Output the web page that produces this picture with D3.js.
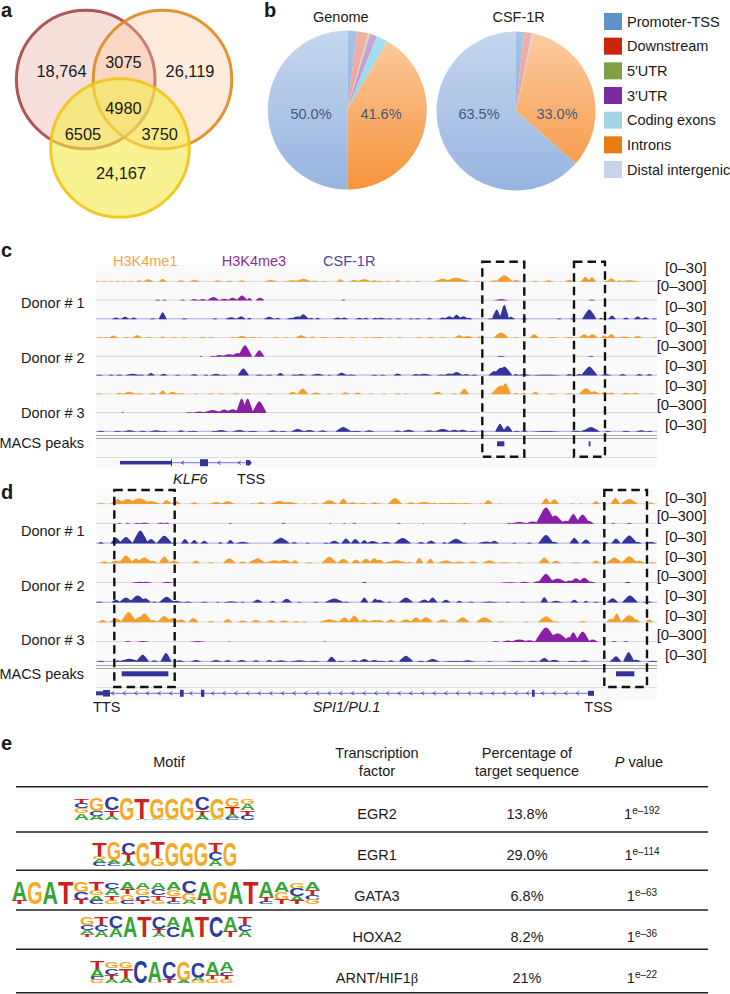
<!DOCTYPE html>
<html><head><meta charset="utf-8">
<script src="https://cdn.jsdelivr.net/npm/d3@7"></script>
<style>
html,body{margin:0;padding:0;background:#fff}
svg{display:block;font-family:"Liberation Sans",Arial,sans-serif;fill:#1a1a1a}
</style></head><body>
<svg id="c" width="730" height="994"></svg>
<script>
// ---------- panel a: Venn region counts
const vennLabels=["18,764","3075","26,119","4980","6505","3750","24,167"];
// ---------- panel b: peak annotation
const annoCategories=["Promoter-TSS","Downstream","5′UTR","3′UTR","Coding exons","Introns","Distal intergenic"];
const genomeShare=[2.0,2.2,0.4,1.5,2.3,41.6,50.0];
const csfShare=[1.6,1.6,0.1,0.1,0.1,33.0,63.5];
const pieTitles=["Genome","CSF-1R"];
const pieLabelsGenome=["50.0%","41.6%"];
const pieLabelsCsf=["63.5%","33.0%"];
// ---------- panels c/d: signal peaks as [position, half width, height]; position domain 0..1683, height domain 0..56
const c_me1_1=[[5,6,1],[25,6,1],[45,6,1],[65,6,1],[85,6,1],[105,6,1],[130,8,3],[157,14,6],[200,10,8],[255,10,3],[295,14,4],[365,10,3],[400,8,2],[438,10,3],[525,18,4],[590,25,3],[622,20,8],[655,10,2],[685,10,1],[733,10,6],[775,14,4],[805,20,6],[835,10,3],[850,8,2],[875,8,1],[905,8,3],[935,8,1],[965,8,1],[1040,22,8],[1080,30,11],[1108,12,4],[1145,8,2],[1195,12,3],[1225,22,18],[1260,12,4],[1318,8,2],[1358,14,3],[1420,12,5],[1468,12,14],[1488,10,12],[1530,6,2],[1546,12,9],[1570,8,3],[1600,28,3]];
const c_me3_1=[[185,7,2],[205,6,2],[260,6,2],[295,12,3],[320,12,3],[352,16,9],[385,15,4],[410,14,7],[438,14,14],[460,8,6],[492,11,8],[742,5,2],[1215,18,3],[1487,8,2]];
const c_csf_1=[[60,10,4],[87,12,6],[113,9,4],[170,7,2],[200,10,20],[265,7,2],[357,6,2],[405,14,5],[435,12,8],[460,6,3],[520,14,6],[545,8,3],[585,12,3],[605,20,7],[622,14,14],[645,8,3],[665,8,3],[725,12,4],[745,10,4],[790,10,3],[810,8,3],[838,8,3],[855,14,3],[880,8,2],[908,8,2],[945,6,2],[965,8,2],[1000,8,3],[1040,10,4],[1060,14,8],[1082,12,12],[1102,14,8],[1120,8,3],[1185,8,2],[1202,12,28],[1225,12,42],[1245,10,6],[1285,8,3],[1390,6,2],[1430,6,2],[1480,18,28],[1515,6,3],[1548,10,10],[1590,8,4],[1625,10,7],[1648,10,5],[1675,6,2]];
const c_me1_2=[[10,8,1],[30,6,1],[52,12,6],[90,8,2],[124,12,8],[160,10,2],[200,8,3],[235,8,1],[265,8,2],[320,8,2],[345,8,1],[410,7,2],[438,14,5],[470,10,2],[495,6,1],[540,8,1],[570,8,1],[615,16,7],[650,8,3],[685,12,2],[730,14,1],[770,8,2],[810,8,1],[835,8,1],[850,10,2],[880,6,1],[910,6,2],[970,10,1],[1005,10,2],[1040,8,1],[1090,15,7],[1115,15,5],[1150,8,3],[1215,20,15],[1260,8,2],[1315,12,10],[1370,14,2],[1420,14,2],[1465,14,10],[1490,14,10],[1525,10,6],[1546,12,10],[1585,18,3],[1625,12,5],[1675,6,1]];
const c_me3_2=[[315,3,2],[350,8,2],[370,15,4],[400,25,6],[425,18,10],[447,18,33],[490,13,18],[1215,10,2],[1485,7,2]];
const c_csf_2=[[10,10,1],[45,6,2],[70,8,2],[110,20,4],[135,8,2],[165,10,6],[203,10,4],[245,8,1],[295,10,3],[330,6,2],[360,15,4],[385,8,1],[442,14,20],[490,10,2],[520,8,2],[553,10,6],[595,8,2],[615,14,3],[665,18,4],[700,6,1],[737,14,7],[765,14,2],[835,10,1],[860,8,1],[905,10,5],[960,12,3],[985,20,4],[1035,10,2],[1060,14,5],[1082,16,9],[1110,12,3],[1135,8,2],[1195,15,12],[1215,22,22],[1225,20,26],[1260,8,3],[1285,18,3],[1350,40,1],[1420,10,3],[1450,10,3],[1480,20,26],[1530,14,3],[1580,10,3],[1630,10,3],[1660,8,3]];
const c_me1_3=[[10,10,1],[70,10,3],[100,18,6],[130,10,2],[170,10,3],[200,10,11],[230,14,6],[255,10,2],[300,6,1],[345,8,2],[375,8,2],[420,8,2],[455,8,2],[520,8,1],[590,12,6],[620,14,16],[660,14,4],[700,8,1],[748,10,5],[785,10,4],[825,6,1],[865,5,1],[905,8,2],[930,6,1],[1025,14,6],[1075,8,2],[1105,12,15],[1205,12,20],[1215,25,25],[1228,14,32],[1260,8,3],[1283,8,3],[1318,10,6],[1365,14,1],[1420,12,2],[1470,18,17],[1495,15,8],[1525,10,6],[1545,10,4],[1590,14,3],[1617,12,3],[1665,6,1]];
const c_me3_3=[[80,3,2],[280,10,1],[310,20,3],[350,25,8],[385,18,9],[410,20,10],[437,14,42],[455,14,42],[490,18,34]];
const c_csf_3=[[15,10,2],[65,10,2],[100,18,3],[140,10,2],[180,20,3],[205,8,2],[255,10,3],[290,15,2],[355,8,1],[375,18,4],[430,18,4],[470,14,2],[530,14,3],[560,10,2],[605,18,7],[640,16,4],[680,12,3],[742,20,13],[780,15,2],[820,14,3],[905,10,3],[938,16,5],[1000,14,3],[1040,22,7],[1075,14,5],[1100,14,5],[1130,12,2],[1212,12,23],[1235,12,17],[1262,8,2],[1285,8,4],[1350,40,1],[1440,14,2],[1465,10,4],[1485,22,13],[1535,8,2],[1590,10,2],[1635,14,3],[1660,8,2]];
const d_me1_1=[[15,14,1],[65,18,13],[95,25,14],[130,30,16],[165,25,8],[212,12,11],[240,12,8],[295,12,4],[360,18,5],[395,18,7],[470,10,1],[495,12,5],[550,25,8],[580,25,5],[625,4,1],[655,10,2],[700,20,10],[742,12,15],[770,15,4],[800,12,3],[835,12,4],[850,8,1],[897,18,17],[945,15,4],[985,25,5],[1015,8,3],[1040,14,3],[1070,25,3],[1110,20,2],[1155,6,1],[1177,12,10],[1215,4,1],[1350,12,16],[1375,12,14],[1430,6,1],[1455,6,1],[1500,10,7],[1558,12,17],[1600,22,14],[1665,8,4]];
const d_me3_1=[[70,6,2],[95,6,2],[125,12,2],[145,14,3],[195,10,3],[212,8,3],[403,5,2],[562,6,2],[703,4,1],[745,4,1],[775,6,2],[908,6,2],[983,3,1],[1105,3,2],[1240,8,2],[1270,25,4],[1310,20,6],[1350,25,48],[1378,22,24],[1410,22,8],[1432,16,28],[1460,18,27],[1478,14,8],[1552,6,2],[1600,8,2]];
const d_csf_1=[[15,8,3],[60,14,16],[90,18,18],[133,20,38],[165,14,12],[205,20,22],[235,8,2],[267,10,12],[295,10,9],[325,10,7],[373,6,3],[403,10,9],[440,18,4],[555,22,16],[595,8,3],[635,6,2],[690,8,2],[715,14,7],[750,12,14],[778,12,12],[805,10,9],[830,18,6],[870,14,4],[920,22,15],[975,10,3],[1005,12,8],[1045,6,3],[1080,22,13],[1105,10,2],[1170,20,5],[1195,12,7],[1255,6,2],[1300,8,2],[1350,20,24],[1375,10,4],[1435,12,16],[1470,12,11],[1528,8,3],[1560,12,14],[1600,20,23],[1625,10,4],[1665,14,4]];
const d_me1_2=[[25,14,4],[60,18,6],[90,18,22],[120,14,13],[145,22,16],[170,14,6],[205,14,19],[235,14,7],[300,10,7],[345,8,2],[400,16,14],[440,10,4],[470,10,8],[485,20,14],[535,25,8],[565,20,9],[597,10,8],[640,10,1],[700,20,18],[742,16,12],[780,12,10],[810,14,12],[835,14,14],[850,14,10],[900,30,8],[940,8,3],[970,10,15],[1003,10,12],[1050,22,7],[1090,18,4],[1130,12,5],[1180,18,8],[1225,18,2],[1270,10,1],[1345,14,16],[1380,14,6],[1440,15,1],[1500,10,7],[1555,20,16],[1600,20,20],[1630,16,6],[1670,10,2]];
const d_me3_2=[[130,20,2],[150,15,2],[215,15,2],[805,6,2],[1240,25,1],[1285,14,2],[1325,14,4],[1350,20,26],[1385,25,12],[1420,14,6],[1440,16,13],[1465,16,14],[1485,12,3],[1595,8,2]];
const d_csf_2=[[10,10,2],[60,12,7],[90,18,14],[125,22,20],[148,15,12],[175,8,2],[212,20,16],[240,20,4],[275,14,2],[325,14,1],[365,6,1],[405,18,3],[440,8,1],[485,14,8],[530,10,4],[572,14,10],[610,8,1],[660,10,1],[715,24,11],[750,10,2],[805,10,14],[838,10,10],[850,14,7],[880,8,1],[930,18,14],[985,16,8],[1010,12,14],[1050,12,7],[1090,10,4],[1125,12,1],[1180,25,2],[1235,8,1],[1280,10,1],[1345,10,15],[1380,18,4],[1435,10,7],[1470,8,4],[1500,10,1],[1550,15,12],[1602,20,20],[1655,12,3]];
const d_me1_3=[[20,12,6],[60,18,10],[98,20,30],[130,18,15],[145,20,25],[170,14,6],[205,18,18],[230,18,12],[255,14,8],[292,14,12],[345,8,3],[395,12,9],[440,14,4],[480,14,6],[525,14,5],[565,14,4],[600,12,3],[625,8,2],[700,25,8],[745,16,13],[775,14,19],[805,14,8],[835,16,6],[850,14,6],[885,14,7],[930,18,7],[960,14,14],[990,18,14],[1040,16,8],[1100,18,14],[1165,22,14],[1215,14,1],[1290,10,1],[1350,22,16],[1380,10,2],[1460,10,3],[1545,12,10],[1562,12,25],[1600,22,20],[1620,12,7],[1660,10,7]];
const d_me3_3=[[95,10,2],[140,18,2],[305,22,2],[400,3,1],[686,3,1],[1200,10,1],[1235,15,3],[1270,25,6],[1300,18,4],[1350,28,42],[1385,30,25],[1420,18,14],[1432,14,28],[1460,18,30],[1490,14,6],[1555,8,1],[1590,8,1]];
const d_csf_3=[[15,10,2],[65,8,3],[100,28,8],[140,16,20],[175,10,3],[210,14,25],[250,14,3],[300,14,4],[360,14,4],[395,10,4],[437,14,4],[480,10,3],[520,10,4],[555,18,3],[610,25,3],[655,14,2],[707,12,14],[735,10,2],[775,12,4],[805,14,7],[835,14,4],[855,14,2],[885,10,3],[930,18,17],[975,10,2],[1010,18,7],[1075,30,1],[1115,20,3],[1180,8,1],[1260,25,1],[1310,12,2],[1345,14,10],[1375,14,5],[1430,14,2],[1465,14,3],[1550,8,6],[1560,14,15],[1598,14,28],[1620,14,5],[1670,14,2]];
const histoneMarks=["H3K4me1","H3K4me3","CSF-1R"];
const donors=["Donor # 1","Donor # 2","Donor # 3"];
const rangeLabels=["[0–30]","[0–300]","[0–30]","[0–30]","[0–300]","[0–30]","[0–30]","[0–300]","[0–30]"];
// ---------- panel e
const motifHeaders=["Motif","Percentage of target sequence","P value"];
const factors=["EGR2","EGR1","GATA3","HOXA2","ARNT/HIF1"];
const percents=["13.8%","29.0%","6.8%","8.2%","21%"];
const pExponents=["e–192","e–114","e–63","e–36","e–22"];
// each motif position: letters top to bottom as letter + relative height
const motifEGR2=[["T",.25,"C",.2,"G",.25,"A",.3],["G",.6,"C",.2,"A",.2],["C",.55,"T",.3,"A",.15],["G",1],["T",.95,"A",.05],["G",.95,"A",.05],["G",.95,"A",.05],["G",1],["C",.55,"T",.25,"A",.2],["G",.95,"A",.05],["G",.4,"T",.35,"A",.15,"C",.1],["G",.25,"A",.3,"T",.25,"C",.2]];
const motifEGR1=[["T",.6,"G",.1,"A",.15,"C",.15],["G",.75,"A",.12,"C",.13],["C",.5,"T",.3,"A",.2],["G",1],["T",.7,"G",.3],["G",1],["G",1],["G",1],["T",.4,"C",.35,"A",.25],["G",1]];
const motifGATA3=[["A",.85,"T",.15],["G",1],["A",1],["T",1],["G",.45,"C",.35,"T",.2],["T",.4,"G",.2,"A",.25,"C",.15],["C",.3,"A",.3,"T",.25,"G",.15],["A",.35,"T",.2,"G",.3,"C",.15],["A",.3,"G",.3,"C",.25,"T",.15],["A",.3,"C",.3,"T",.25,"G",.15],["A",.35,"G",.3,"T",.25,"C",.1],["C",.5,"G",.35,"A",.15],["A",.8,"T",.2],["G",1],["A",1],["T",1],["A",.7,"T",.2,"C",.1],["A",.45,"G",.35,"T",.2],["G",.3,"C",.35,"A",.2,"T",.15],["A",.35,"T",.25,"C",.2,"G",.2]];
const motifHOXA2=[["G",.4,"C",.25,"A",.2,"T",.15],["T",.4,"C",.3,"A",.3],["C",.55,"A",.45],["A",1],["T",1],["C",.6,"T",.2,"A",.2],["A",.5,"C",.5],["A",1],["T",1],["C",1],["A",.7,"T",.3],["T",.4,"C",.3,"A",.3]];
const motifARNT=[["T",.35,"A",.35,"C",.15,"G",.15],["G",.3,"C",.3,"T",.25,"A",.15],["G",.3,"T",.45,"A",.25],["C",1],["A",.95,"G",.05],["C",.8,"T",.2],["G",.9,"A",.1],["C",.75,"A",.15,"G",.1],["A",.6,"T",.2,"G",.2],["A",.45,"C",.2,"T",.15,"G",.2]];

const svg=d3.select("#c");
function txt(x,y,s,o={}){
  const t=svg.append("text").attr("x",x).attr("y",y).attr("dy",".36em").attr("font-size",o.size||14.5)
   .attr("text-anchor",o.anchor||"start").attr("fill",o.fill||"#1a1a1a").text(s);
  if(o.bold)t.attr("font-weight","bold"); if(o.italic)t.attr("font-style","italic");
  return t;
}
[["a",1,10],["b",264,10],["c",1,250],["d",1,492],["e",1,743]].forEach(d=>txt(d[1],d[2],d[0],{size:20,bold:true}));

// ---- Venn
const vennCircles=[{cx:85.7,cy:79.5,fill:"#e8a89e",fo:.36,stroke:"#a8484a"},{cx:162.5,cy:79.5,fill:"#fbc79a",fo:.36,stroke:"#e08a22"},{cx:120,cy:148,fill:"#f6ea4e",fo:.62,stroke:"#f0c418"}];
svg.selectAll(".v").data(vennCircles).join("circle").attr("cx",d=>d.cx).attr("cy",d=>d.cy).attr("r",69.3)
 .attr("fill",d=>d.fill).attr("fill-opacity",d=>d.fo).attr("stroke",d=>d.stroke).attr("stroke-width",3).attr("stroke-opacity",.92);
[[61.5,70.7],[123.4,62.3],[190,70.7],[123.4,108.3],[82.9,134.3],[159.7,134.3],[121,173.3]].forEach((p,i)=>
  txt(p[0],p[1],vennLabels[i],{size:16.4,anchor:"middle"}));

// ---- Pies
const defs=svg.append("defs");
const sliceTop=["#a9c3e6","#f3b0aa","#d6e0a8","#c8a8de","#a8e0ee","#fccca4","#c5d7ef"];
const sliceBot=["#7ea4d8","#ea8c84","#b8cc78","#a47cc8","#7ccbe0","#f6943a","#97b4e0"];
function pie(vals,cx,cy,id,title,titleX){
  const r=79.5;
  const arcs=d3.pie().sort(null).value(d=>d)(vals);
  const arc=d3.arc().innerRadius(0).outerRadius(r);
  const g=svg.append("g").attr("transform",`translate(${cx},${cy})`);
  sliceTop.forEach((c,i)=>{
    const gr=defs.append("linearGradient").attr("id",id+i).attr("gradientUnits","userSpaceOnUse").attr("x1",0).attr("x2",0).attr("y1",-r).attr("y2",r);
    gr.append("stop").attr("offset",0).attr("stop-color",c); gr.append("stop").attr("offset",1).attr("stop-color",sliceBot[i]);
  });
  g.selectAll("path").data(arcs).join("path").attr("d",arc).attr("fill",(d,i)=>`url(#${id}${i})`);
  txt(titleX,17,title,{anchor:"middle"});
}
pie(genomeShare,347.3,110,"g",pieTitles[0],340.8);
pie(csfShare,516,111,"s",pieTitles[1],518.6);
[[311,113.3,pieLabelsGenome[0]],[381,113.3,pieLabelsGenome[1]],[479,113.3,pieLabelsCsf[0]],[557,113.3,pieLabelsCsf[1]]].forEach(d=>
  txt(d[0],d[1],d[2],{anchor:"middle",fill:"#46587e"}));
const legendColors=["#5f93c8","#c9250d","#7fa045","#7a2ba0","#a3d5e6","#e77d10","#c5d4e8"];
const legendY=d3.scalePoint().domain(annoCategories).range([21.5,169.5]);
annoCategories.forEach((c,i)=>{
  svg.append("rect").attr("x",604).attr("y",legendY(c)-8.5).attr("width",18).attr("height",17).attr("fill",legendColors[i]);
  txt(627,legendY(c),c);
});

// ---- Tracks
const X=d3.scaleLinear().domain([0,1683]).range([96,657]);
const H=d3.scaleLinear().domain([0,56]).range([0,18.67]);
const ORANGE="#f29d2c",PURPLE="#8a1fa6",BLUE="#35349b";
const kinds=[{fill:ORANGE,line:"#d9d9d9"},{fill:PURPLE,line:"#d9d4dc"},{fill:BLUE,line:"#a9a9de"}];
function tracks(list,y0,y1){
  const Y=d3.scaleLinear().domain([0,list.length-1]).range([y0,y1]);
  list.forEach((peaks,i)=>{
    const k=kinds[i%3],base=Y(i);
    svg.append("line").attr("x1",X(0)).attr("x2",X(1683)).attr("y1",base).attr("y2",base).attr("stroke",k.line).attr("stroke-width",1);
    const area=d3.area().x(p=>X(p[0])).y0(base+.4).y1(p=>base+.4-p[1]).curve(d3.curveMonotoneX);
    // each peak is drawn as a rounded hump with the read position, width and height
    const d=peaks.map(p=>{const h=H(p[2]+1.2);const w=p[1]*1.2;
      return area([[p[0]-w,0],[p[0]-w*.55,h*.55],[p[0],h],[p[0]+w*.55,h*.55],[p[0]+w,0]]);}).join("");
    svg.append("path").attr("d",d).attr("fill",k.fill);
  });
}
svg.insert("rect",":first-child").attr("x",96).attr("y",265).attr("width",561).attr("height",203).attr("fill","#fafafa");
svg.insert("rect",":first-child").attr("x",96).attr("y",489).attr("width",561).attr("height",211).attr("fill","#fafafa");
tracks([c_me1_1,c_me3_1,c_csf_1,c_me1_2,c_me3_2,c_csf_2,c_me1_3,c_me3_3,c_csf_3],281.3,431.3);
tracks([d_me1_1,d_me3_1,d_csf_1,d_me1_2,d_me3_2,d_csf_2,d_me1_3,d_me3_3,d_csf_3],503.7,661.3);
// double separators and gene-row lines
[[435.5,438.5,457.5],[665.5,668.5,687.5]].forEach(a=>{
  [a[0],a[1]].forEach(y=>svg.append("line").attr("x1",96).attr("x2",657).attr("y1",y).attr("y2",y).attr("stroke","#a8a8a8").attr("stroke-width",1));
  svg.append("line").attr("x1",96).attr("x2",657).attr("y1",a[2]).attr("y2",a[2]).attr("stroke","#dedede");
});
// track labels
[[113,"#e9a84c"],[221.7,"#8a2ca5"],[323,"#4a479e"]].forEach((d,i)=>txt(d[0],260.7,histoneMarks[i],{fill:d[1]}));
[303,357.7,412.3].forEach((y,i)=>txt(21,y,donors[i]));
[530.7,585.3,640].forEach((y,i)=>txt(21,y,donors[i]));
txt(84,443,"MACS peaks",{anchor:"end"}); txt(84,674,"MACS peaks",{anchor:"end"});
[267.7,285.7,306.7,326.7,345.7,366,385.7,404.7,424.7].forEach((y,i)=>txt(706.7,y,rangeLabels[i],{anchor:"end",size:15}));
[497.3,515.3,536.7,556.3,576,595.7,615.3,635,654.7].forEach((y,i)=>txt(706.7,y,rangeLabels[i],{anchor:"end",size:15}));
// MACS peak blocks
const macsC=[[1203,1225],[1478,1483.5]], macsD=[[77,217],[1560,1615]];
macsC.forEach(m=>svg.append("rect").attr("x",X(m[0])).attr("width",X(m[1])-X(m[0])).attr("y",441.3).attr("height",5).attr("fill",BLUE));
macsD.forEach(m=>svg.append("rect").attr("x",X(m[0])).attr("width",X(m[1])-X(m[0])).attr("y",671.3).attr("height",5).attr("fill",BLUE));
// genes
function gene(y,from,to){svg.append("line").attr("x1",X(from)).attr("x2",X(to)).attr("y1",y).attr("y2",y).attr("stroke","#8d8ed6").attr("stroke-width",1.2);}
function exon(y,a,b,h){svg.append("rect").attr("x",X(a)).attr("width",X(b)-X(a)).attr("y",y-h/2).attr("height",h).attr("fill",BLUE);}
function tick(y,p){const x=X(p);svg.append("path").attr("d",`M${x+1.5},${y-1.8}L${x-1.5},${y}L${x+1.5},${y+1.8}`).attr("fill","none").attr("stroke",BLUE).attr("stroke-width",.8);}
const klf6Exons=[[72,225,3.5],[225,228,7],[312,336,7],[450,456,5.5]], klf6Ticks=[260,369,430];
gene(462.7,72,467); klf6Exons.forEach(e=>exon(462.7,e[0],e[1],e[2])); klf6Ticks.forEach(p=>tick(462.7,p));
svg.append("path").attr("d",`M${X(456)},${460}L${X(461)},${460}L${X(467)},${462.7}L${X(461)},${465.4}L${X(456)},${465.4}Z`).attr("fill",BLUE);
txt(173,479,"KLF6",{italic:true}); txt(237,479,"TSS");
const spiExons=[[0,21,4],[21,42,6.5],[252,263,7],[315,325,7],[1308,1316,7],[1476,1494,5]];
const spiTicks=[50,85,120,155,190,225,285,350,385,420,455,490,525,560,595,630,665,700,735,770,805,840,875,910,945,980,1015,1050,1085,1120,1155,1190,1225,1260,1295,1340,1375,1410,1445];
gene(693.3,0,1488); spiExons.forEach(e=>exon(693.3,e[0],e[1],e[2])); spiTicks.forEach(p=>tick(693.3,p));
txt(93,707,"TTS"); txt(312.7,707,"SPI1/PU.1",{italic:true}); txt(584.3,707,"TSS");
// dashed boxes
[[482.3,261.7,524.3,456.7],[574,261.7,605,456.7],[114.3,490,174.7,687],[604.3,490,647,687]].forEach(b=>
 svg.append("rect").attr("x",b[0]).attr("y",b[1]).attr("width",b[2]-b[0]).attr("height",b[3]-b[1]).attr("fill","none").attr("stroke","#111").attr("stroke-width",2.4).attr("stroke-dasharray","8.5,5"));

// ---- Table
[786.7,832,870.3,910,949.3,992.7].forEach(y=>svg.append("line").attr("x1",16).attr("x2",708).attr("y1",y).attr("y2",y).attr("stroke","#222").attr("stroke-width",1.5));
txt(169,761.7,motifHeaders[0],{anchor:"middle"});
txt(377,752.7,"Transcription",{anchor:"middle"}); txt(377,770.7,"factor",{anchor:"middle"});
txt(527,752.7,"Percentage of",{anchor:"middle"}); txt(527,770.7,"target sequence",{anchor:"middle"});
{const t=txt(639,761.7,"",{anchor:"middle"}); t.append("tspan").attr("font-style","italic").text("P"); t.append("tspan").text(" value");}
const rowY=[813.3,854.7,895.7,936.7,977.7];
rowY.forEach((y,i)=>{
  const f=txt(377,y,factors[i],{anchor:"middle"});
  if(i===4) f.append("tspan").attr("font-family","Liberation Serif").text("β");
  txt(527,y,percents[i],{anchor:"middle"});
  const p=txt(642,y,"1",{anchor:"middle"});
  p.append("tspan").attr("font-size",10).attr("dy","-.5em").text(pExponents[i]);
});
// ---- Logos
const baseColor={A:"#34a534",C:"#2a3ba3",G:"#f6a925",T:"#cb2220"};
const logos=[{m:motifEGR2,x:74,w:181,y0:798,y1:820},{m:motifEGR1,x:92.3,w:145,y0:843,y1:866},{m:motifGATA3,x:11.7,w:308.5,y0:882,y1:904},{m:motifHOXA2,x:80,w:172,y0:917,y1:937},{m:motifARNT,x:90,w:144,y0:962,y1:983}];
const probe=svg.append("text").attr("font-size",10).attr("font-weight","bold");
const adv={}; "ACGT".split("").forEach(l=>{probe.text(l);adv[l]=probe.node().getComputedTextLength();}); probe.remove();
const CAP=6.9;
logos.forEach(L=>{
  const bx=d3.scaleBand().domain(d3.range(L.m.length)).range([L.x,L.x+L.w]).paddingInner(0);
  const hy=d3.scaleLinear().domain([0,1]).range([0,L.y1-L.y0]);
  L.m.forEach((stack,pos)=>{
    let acc=0;
    for(let i=0;i<stack.length;i+=2){
      const l=stack[i],v=stack[i+1],h=hy(v),top=L.y0+hy(acc);
      svg.append("text").attr("font-size",10).attr("font-weight","bold").attr("fill",baseColor[l])
        .attr("transform",`translate(${bx(pos)},${top+h}) scale(${bx.bandwidth()/adv[l]},${h/CAP})`).text(l);
      acc+=v;
    }
  });
});
</script></body></html>
